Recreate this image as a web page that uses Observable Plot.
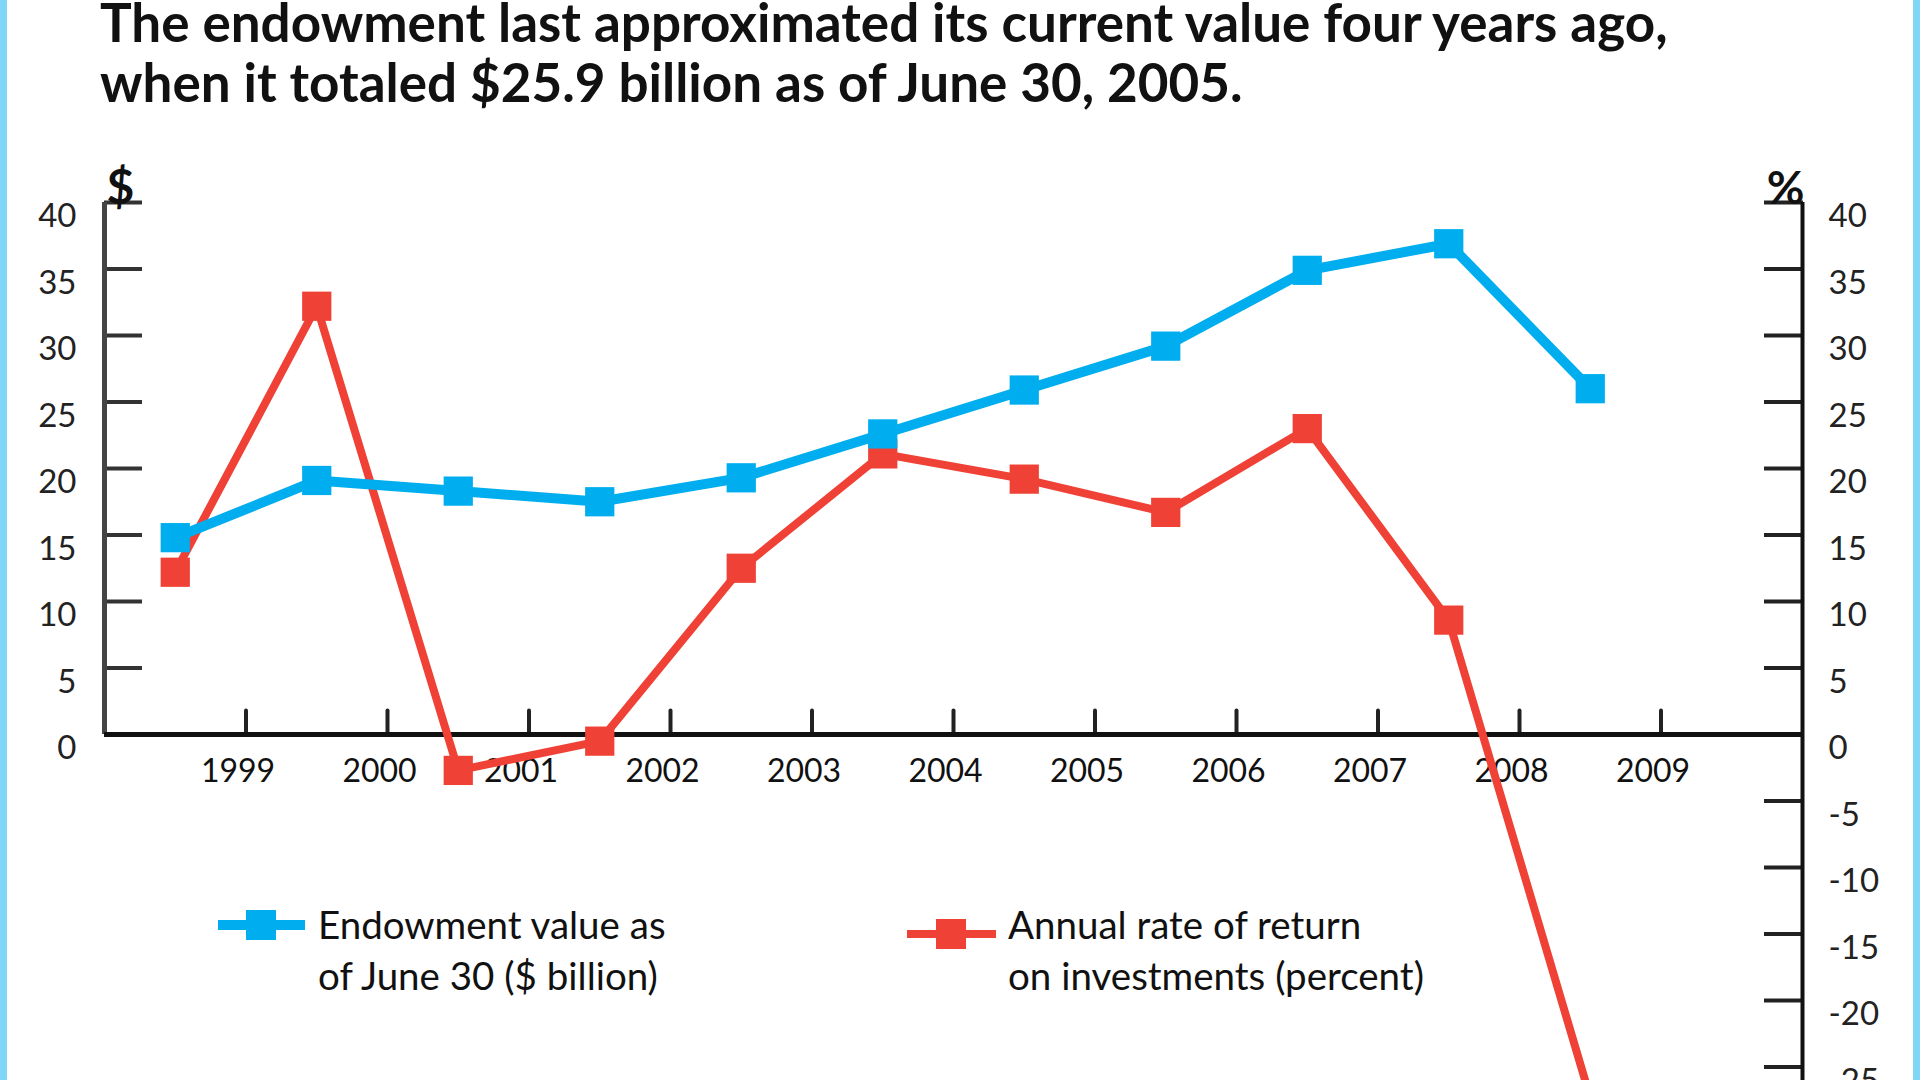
<!DOCTYPE html>
<html>
<head>
<meta charset="utf-8">
<script src="https://cdn.jsdelivr.net/npm/d3@7"></script>
<script src="https://cdn.jsdelivr.net/npm/@observablehq/plot@0.6"></script>
<style>
  html, body { margin: 0; padding: 0; width: 1920px; height: 1080px; overflow: hidden; background: #fff; }
  #wrap { position: relative; width: 1920px; height: 1080px; overflow: hidden; font-family: Lato, "Open Sans", sans-serif; color: #111; }
  .border { position: absolute; top: 0; width: 7px; height: 1080px; background: #80d6f6; z-index: 5; }
  #title { position: absolute; left: 100px; top: -8px; font-size: 53px; font-weight: 700; line-height: 60px; white-space: nowrap; z-index: 3; }
  #chart { position: absolute; left: 0; top: 0; z-index: 1; }
  .legtext { position: absolute; font-size: 38.5px; line-height: 51px; white-space: nowrap; z-index: 3; }
  .sw { position: absolute; left: 0; top: 0; z-index: 2; }
</style>
</head>
<body>
<div id="wrap">
  <div class="border" style="left:0"></div>
  <div class="border" style="left:1913px"></div>
  <div id="title">The endowment last approximated its current value four years ago,<br>when it totaled $25.9 billion as of June 30, 2005.</div>
  <div id="chart"></div>
  <svg class="sw" width="1920" height="1080">
    <line x1="218" x2="305" y1="925" y2="925" stroke="#00aeef" stroke-width="10"/>
    <rect x="246" y="910" width="30" height="30" fill="#00aeef"/>
    <line x1="907" x2="996" y1="934" y2="934" stroke="#ef4136" stroke-width="8"/>
    <rect x="936" y="919" width="30" height="30" fill="#ef4136"/>
  </svg>
  <div class="legtext" style="left:318px; top:899px">Endowment value as<br>of June 30 ($ billion)</div>
  <div class="legtext" style="left:1008px; top:899px">Annual rate of return<br>on investments (percent)</div>
</div>
<script>
// Fiscal years ending June 30 (points are drawn half a year before the year tick)
const fiscalYears = [1999, 2000, 2001, 2002, 2003, 2004, 2005, 2006, 2007, 2008, 2009];
const endowmentValue = [14.8, 19.1, 18.3, 17.5, 19.3, 22.6, 25.9, 29.2, 34.9, 36.9, 26.0]; // $ billion
const annualReturn = [12.2, 32.2, -2.7, -0.5, 12.5, 21.1, 19.2, 16.7, 23.0, 8.6, -27.3];   // percent
const xTickYears = [1999, 2000, 2001, 2002, 2003, 2004, 2005, 2006, 2007, 2008, 2009];
const leftTicks = [0, 5, 10, 15, 20, 25, 30, 35, 40];
const rightTicks = [-30, -25, -20, -15, -10, -5, 0, 5, 10, 15, 20, 25, 30, 35, 40];
const xDomain = [1998, 2010];

const BLUE = "#00aeef";
const RED = "#ef4136";

const endowment = fiscalYears.map((y, i) => ({year: y, value: endowmentValue[i]}));
const returns = fiscalYears.map((y, i) => ({year: y, value: annualReturn[i]}));
const xPos = d => d.year - 0.5;

const tickShape = {draw(context, l) { context.moveTo(0, 0); context.lineTo(0, -l); }};

const chart = Plot.plot({
  width: 1920,
  height: 1160,
  marginTop: 202,
  marginBottom: 27,
  marginLeft: 104,
  marginRight: 118,
  style: {fontFamily: "Lato, 'Open Sans', sans-serif", fontSize: "34px", color: "#111", background: "transparent", overflow: "visible"},
  x: {domain: xDomain, axis: null},
  y: {domain: [d3.min(rightTicks), d3.max(rightTicks)]},
  marks: [
    // axis ticks (inward)
    Plot.axisY({anchor: "left", ticks: leftTicks.filter(t => t > 0), tickSize: -38, tickFormat: () => "", stroke: "#333", strokeWidth: 4, label: null}),
    Plot.axisY({anchor: "left", ticks: leftTicks, tickSize: 0, tickPadding: 28, dy: 14, tickFormat: d => String(d), fill: "#222", fontSize: 33, label: null}),
    Plot.axisY({anchor: "right", ticks: rightTicks, tickSize: -39, tickFormat: () => "", stroke: "#222", strokeWidth: 4, label: null}),
    Plot.axisY({anchor: "right", ticks: rightTicks, tickSize: 0, tickPadding: 26, dy: 14, tickFormat: d => String(d), fill: "#222", fontSize: 33, label: null}),
    // x ticks on the zero line
    Plot.vector(xTickYears, {x: d => d, y: () => 0, length: 24, rotate: 0, anchor: "start", shape: tickShape, stroke: "#222", strokeWidth: 4}),
    Plot.text(xTickYears, {x: d => d, y: () => 0, dy: 37, dx: -8, text: d => String(d), fill: "#111", fontSize: 32}),
    // axis lines
    Plot.ruleX([xDomain[0]], {y1: d3.min(leftTicks), y2: d3.max(leftTicks), stroke: "#444", strokeWidth: 5}),
    Plot.ruleX([xDomain[1]], {y1: d3.min(rightTicks), y2: d3.max(rightTicks), stroke: "#111", strokeWidth: 4}),
    Plot.ruleY([0], {stroke: "#111", strokeWidth: 5}),
    // unit labels
    Plot.text(["$"], {frameAnchor: "top-left", textAnchor: "start", lineAnchor: "bottom", dx: 2, dy: 1, fontSize: 48, fontWeight: 700, fill: "#111"}),
    Plot.text(["%"], {frameAnchor: "top-right", textAnchor: "end", lineAnchor: "bottom", dx: 2, dy: 1, fontSize: 46, fontWeight: 700, fill: "#111"}),
    // series
    Plot.line(returns, {x: xPos, y: "value", stroke: RED, strokeWidth: 8}),
    Plot.dot(returns, {x: xPos, y: "value", symbol: "square", r: 16.5, fill: RED}),
    Plot.line(endowment, {x: xPos, y: "value", stroke: BLUE, strokeWidth: 10}),
    Plot.dot(endowment, {x: xPos, y: "value", symbol: "square", r: 16.5, fill: BLUE})
  ]
});
document.getElementById("chart").appendChild(chart);
</script>
</body>
</html>
